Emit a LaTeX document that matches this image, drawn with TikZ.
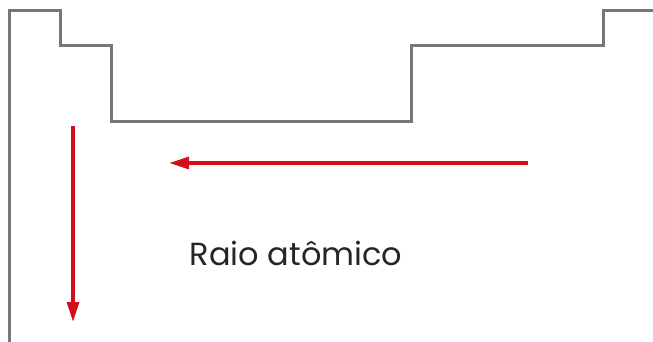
\documentclass[tikz,border=0pt]{standalone}
\usepackage{fontspec}
\setmainfont{Poppins}
\usetikzlibrary{arrows.meta}
\definecolor{outline}{HTML}{777777}
\definecolor{arrowred}{HTML}{D40E1C}
\tikzset{
  tableline/.style={draw=outline, line width=3pt, line join=miter},
  trendarrow/.style={draw=arrowred, line width=3.2pt, -{Triangle[length=20pt,width=12pt]}},
  labeltext/.style={font=\fontsize{32}{38}\selectfont, text=black!85, inner sep=0pt}
}
\begin{document}
\begin{tikzpicture}[x=1pt,y=-1pt]
\useasboundingbox (0,0) rectangle (653,342);
\draw[tableline] (9,342) -- (9,11) -- (60,11) -- (60,46) -- (111,46) -- (111,122) -- (411,122) -- (411,46) -- (603,46) -- (603,11) -- (660,11);
\coordinate (vtop) at (73,126);
\coordinate (vbot) at (73,322);
\coordinate (htail) at (528,163);
\coordinate (hhead) at (169,163);
\draw[trendarrow] (vtop) -- (vbot);
\draw[trendarrow] (htail) -- (hhead);
\node[labeltext, anchor=base] (label) at (296,265) {Raio atômico};
\end{tikzpicture}
\end{document}
